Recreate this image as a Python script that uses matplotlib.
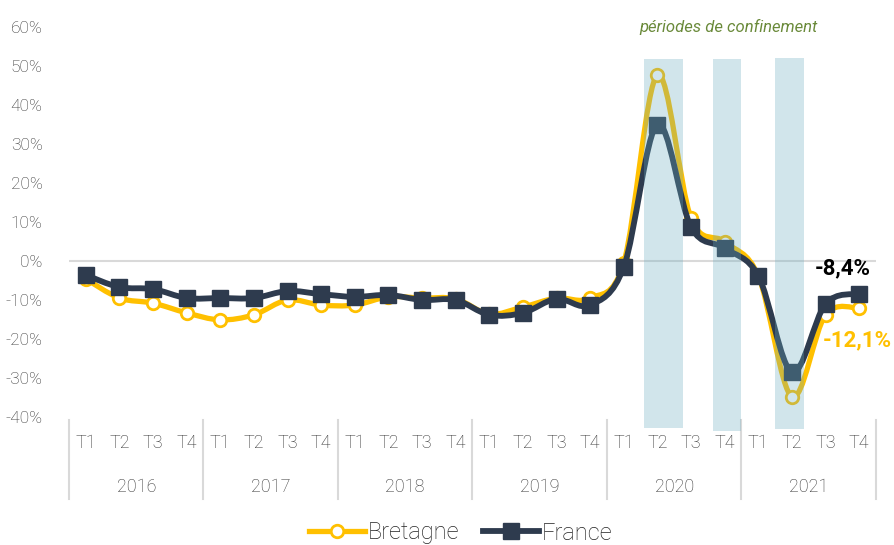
import numpy as np
import matplotlib
matplotlib.use("Agg")
import matplotlib.pyplot as plt
from matplotlib.path import Path
from matplotlib.patches import PathPatch
from matplotlib.lines import Line2D
import matplotlib.transforms as mtransforms

plt.rcParams['font.family'] = ['Roboto', 'DejaVu Sans']

# data
years = ['2016', '2017', '2018', '2019', '2020', '2021']
quarters = ['T1', 'T2', 'T3', 'T4']
bretagne = [-4.6, -9.5, -10.8, -13.3, -15.1, -13.8, -10.0, -11.3,
            -11.3, -9.2, -9.5, -9.7, -13.6, -11.8, -9.5, -9.5,
            -0.4, 47.7, 11.0, 4.9, -3.8, -34.8, -13.8, -12.1]
france = [-3.6, -6.7, -7.2, -9.5, -9.5, -9.5, -7.7, -8.5,
          -9.2, -8.7, -10.0, -10.0, -13.8, -13.3, -9.7, -11.3,
          -1.5, 35.0, 8.7, 3.3, -3.8, -28.5, -11.0, -8.4]
# confinement periods (start, end in quarter index units)
conf_start = [16.6, 18.65, 20.5]
conf_end = [17.75, 19.5, 21.35]
conf_bottom = [-42.8, -43.5, -43.2]
conf_top = [51.8, 51.8, 52.0]

YELLOW = '#FFC000'
NAVY = '#2E3B4E'
GREY = '#333333'

W, H = 894, 545
fig = plt.figure(figsize=(W / 100, H / 100), dpi=100)
ax = fig.add_axes([69 / W, (545 - 417) / H, (876 - 69) / W, (417 - 27) / H])
ax.set_xlim(-0.5, 23.5)
ax.set_ylim(-40, 60)
for s in ax.spines.values():
    s.set_visible(False)
ax.axhline(0, color='#d9d9d9', lw=1.5, zorder=1)


def smooth_path(xs, ys):
    pts = np.column_stack([xs, ys])
    n = len(pts)
    verts = [pts[0]]
    codes = [Path.MOVETO]
    for i in range(n - 1):
        p0 = pts[i - 1] if i > 0 else pts[i]
        p3 = pts[i + 2] if i + 2 < n else pts[i + 1]
        c1 = pts[i] + (pts[i + 1] - p0) / 6
        c2 = pts[i + 1] - (p3 - pts[i]) / 6
        verts += [c1, c2, pts[i + 1]]
        codes += [Path.CURVE4] * 3
    return Path(verts, codes)


x = np.arange(len(bretagne))
ax.add_patch(PathPatch(smooth_path(x, bretagne), fill=False, edgecolor=YELLOW,
                       lw=3.8, joinstyle='round', capstyle='round', zorder=2))
ax.plot(x, bretagne, ls='none', marker='o', ms=9, mfc='white', mec=YELLOW,
        mew=2, zorder=3)
ax.add_patch(PathPatch(smooth_path(x, france), fill=False, edgecolor=NAVY,
                       lw=4.2, joinstyle='round', capstyle='round', zorder=4))
ax.plot(x, france, ls='none', marker='s', ms=11, mfc=NAVY, mec=NAVY, zorder=5)

for a, b, lo, hi in zip(conf_start, conf_end, conf_bottom, conf_top):
    ax.bar(a, hi - lo, width=b - a, bottom=lo, align='edge', color='#69acc0',
           alpha=0.3, zorder=6, clip_on=False)

ax.text(0.817, 1.0, 'périodes de confinement', transform=ax.transAxes,
        ha='center', va='center', style='italic', fontsize=12,
        color='#6a8a3a')

# end labels
ax.annotate('-8,4%', (x[-1], france[-1]), xytext=(-12, 18), textcoords='offset points',
            ha='center', va='center', fontsize=16, fontweight='bold', color='black')
ax.annotate('-12,1%', (x[-1], bretagne[-1]), xytext=(-1, -23), textcoords='offset points',
            ha='center', va='center', fontsize=16, fontweight='bold', color=YELLOW)

# y axis
yt = np.arange(-40, 61, 10)
ax.set_yticks(yt)
ax.set_yticklabels([f'{v}%' for v in yt], fontsize=12.5, color=GREY,
                   fontweight='light')
ax.tick_params(axis='y', length=0, pad=19)
ax.set_xticks([])

# two-level category axis
trans = mtransforms.blended_transform_factory(ax.transData, ax.transAxes)
ax_h = 390.0
for i in range(len(x)):
    ax.text(x[i], -26 / ax_h, quarters[i % 4], transform=trans, ha='center',
            va='center', fontsize=13, color=GREY, fontweight='light')
for j, yr in enumerate(years):
    ax.text(j * 4 + 1.5, -70 / ax_h, yr, transform=trans, ha='center',
            va='center', fontsize=13, color=GREY, fontweight='light')
for j in range(len(years) + 1):
    ax.add_line(Line2D([j * 4 - 0.5] * 2, [-3 / ax_h, -82 / ax_h], transform=trans,
                       color='#d9d9d9', lw=1.5, clip_on=False))

handles = [Line2D([], [], color=YELLOW, lw=3.8, marker='o', ms=9, mfc='white',
                  mec=YELLOW, mew=2),
           Line2D([], [], color=NAVY, lw=4.2, marker='s', ms=11, mfc=NAVY, mec=NAVY)]
leg = fig.legend(handles, ['Bretagne', 'France'], loc='center',
                 bbox_to_anchor=(0.515, 12 / H), ncol=2, frameon=False,
                 prop={'size': 17, 'weight': 'light'}, handlelength=2.4,
                 handletextpad=0.1, columnspacing=1.0, labelcolor='#222222')

fig.savefig('out.png', dpi=100)
